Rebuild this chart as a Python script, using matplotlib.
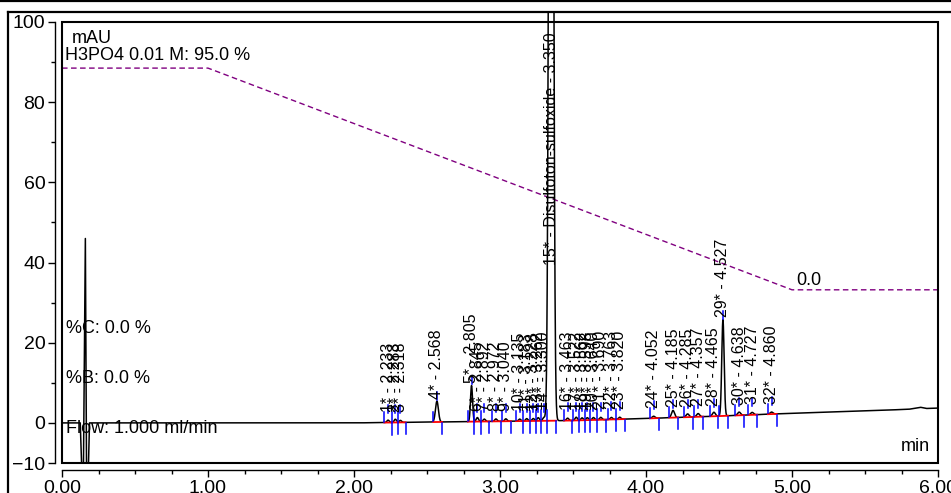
import numpy as np
import matplotlib
matplotlib.use("Agg")
import matplotlib.pyplot as plt
from matplotlib.lines import Line2D
from matplotlib.patches import Rectangle

plt.rcParams['font.family'] = ['Liberation Sans', 'DejaVu Sans']

# --- peak table ---
peak_num = list(range(1, 33))
peak_rt = [2.233, 2.283, 2.318, 2.568, 2.805, 2.845, 2.892, 2.972, 3.040,
           3.135, 3.183, 3.228, 3.262, 3.300, 3.350, 3.463, 3.522, 3.562,
           3.598, 3.640, 3.690, 3.763, 3.820, 4.052, 4.185, 4.285, 4.357,
           4.465, 4.527, 4.638, 4.727, 4.860]
peak_height = [0.6, 0.8, 0.5, 5.2, 9.0, 1.0, 0.6, 0.6, 0.6,
               0.5, 0.6, 0.6, 0.8, 0.8, 400.0, 0.6, 0.8, 0.6,
               0.6, 0.6, 0.6, 0.5, 0.5, 0.5, 1.8, 0.8, 0.8,
               1.0, 24.0, 0.8, 0.6, 0.5]
peak_sigma = [0.008, 0.008, 0.008, 0.010, 0.007, 0.008, 0.008, 0.008, 0.008,
              0.008, 0.008, 0.008, 0.008, 0.008, 0.012, 0.008, 0.008, 0.008,
              0.008, 0.008, 0.008, 0.008, 0.008, 0.010, 0.010, 0.010, 0.010,
              0.010, 0.008, 0.010, 0.010, 0.010]
peak_names = {15: 'Disulfoton-sulfoxide'}

# baseline drift (mAU) and the injection spike
base_t = [0.0, 1.0, 2.0, 2.5, 3.0, 3.5, 4.0, 4.5, 5.0, 5.5, 5.8, 5.88, 5.92, 6.0]
base_v = [0.0, 0.0, 0.0, 0.2, 0.4, 0.6, 1.1, 1.7, 2.4, 3.0, 3.4, 3.9, 3.6, 3.7]
spike_t = [0.125, 0.138, 0.146, 0.160, 0.168, 0.178, 0.188]
spike_v = [0.0, -15.0, -15.0, 46.0, -15.0, -15.0, 0.0]

# gradient profile (%A)
grad_t = [0.0, 1.0, 5.0, 6.0]
grad_v = [88.5, 88.5, 33.2, 33.2]

# --- build the trace ---
t = np.arange(0.0, 6.0005, 0.0005)
baseline = np.interp(t, base_t, base_v)
signal = baseline + np.interp(t, spike_t, spike_v, left=0, right=0)
for rt, h, s in zip(peak_rt, peak_height, peak_sigma):
    signal += h * np.exp(-0.5 * ((t - rt) / s) ** 2)

fig = plt.figure(figsize=(9.51, 4.93), dpi=100)
ax = fig.add_axes([62 / 951, 30 / 493, 876 / 951, 441 / 493])
ax.set_xlim(0, 6)
ax.set_ylim(-10, 100)

# gradient dashed line
ax.plot(grad_t, grad_v, color='#800080', lw=1.0, dashes=(4, 2.5))

# signal, allowed to run up to the outer frame
line, = ax.plot(t, signal, color='black', lw=1.1)
line.set_clip_path(Rectangle((0, 0), 1, 1.024, transform=ax.transAxes))

# peak delimiters, baseline segments and labels
for i, (n, rt, h) in enumerate(zip(peak_num, peak_rt, peak_height)):
    b = np.interp(rt, base_t, base_v)
    start = rt - 0.025
    end = rt + 0.035
    if i > 0:
        start = max(start, (peak_rt[i - 1] + rt) / 2)
    if i < len(peak_rt) - 1:
        end = min(end, (peak_rt[i + 1] + rt) / 2)
    bs = np.interp(start, base_t, base_v)
    be = np.interp(end, base_t, base_v)
    ax.plot([start, end], [bs, be], color='red', lw=1.3, zorder=3)
    ax.plot([start, start], [bs + 0.2, bs + 2.6], color='blue', lw=1.1, zorder=4)
    ax.plot([end, end], [be - 0.2, be - 3.0], color='blue', lw=1.1, zorder=4)

    top = b + max(h, 2.0)
    if n in peak_names:
        label = f"{n}* - {peak_names[n]} - {rt:.3f}"
        ly = 39.3
    else:
        label = f"{n}* - {rt:.3f}"
        ly = top + 0.6
        ax.plot([rt, rt], [top + 0.3, top + 2.3], color='blue', lw=1.1, zorder=4)
    ax.text(rt, ly, label, rotation=90, ha='center', va='bottom',
            fontsize=11.5, zorder=5)

# annotation text
ax.text(0.07, 96, 'mAU', fontsize=13, va='center', ha='left')
ax.text(0.02, 91.6, 'H3PO4 0.01 M: 95.0 %', fontsize=13, va='center', ha='left')
ax.text(0.027, 23.6, '%C: 0.0 %', fontsize=13, va='center', ha='left')
ax.text(0.027, 11.1, '%B: 0.0 %', fontsize=13, va='center', ha='left')
ax.text(0.027, -1.3, 'Flow: 1.000 ml/min', fontsize=13, va='center', ha='left')
ax.text(5.03, 35.6, '0.0', fontsize=13, va='center', ha='left')
ax.text(5.945, -6.0, 'min', fontsize=13, va='center', ha='right')

# axes: plot box plus offset tick axes
for side in ('top', 'right'):
    ax.spines[side].set_visible(False)
for side in ('left', 'bottom'):
    ax.spines[side].set_position(('outward', 5))
    ax.spines[side].set_linewidth(1.0)
ax.add_patch(Rectangle((0, 0), 1, 1, transform=ax.transAxes, fill=False,
                       lw=1.5, edgecolor='black', clip_on=False, zorder=6))

ax.set_xticks([0, 1, 2, 3, 4, 5, 6])
ax.set_xticklabels([f"{v:.2f}" for v in range(7)])
ax.set_xticks(np.arange(0, 6.01, 0.25), minor=True)
ax.set_yticks([-10, 0, 20, 40, 60, 80, 100])
ax.set_yticks([10, 30, 50, 70, 90], minor=True)
ax.tick_params(which='major', length=5, width=1.0, labelsize=14, pad=2)
ax.tick_params(which='minor', length=3, width=1.0)

# outer frame of the report page
fig.add_artist(Line2D([0, 1], [1 - 1 / 493] * 2, color='black', lw=1.6))
fig.add_artist(Line2D([8 / 951, 1], [1 - 12 / 493] * 2, color='black', lw=1.6))
fig.add_artist(Line2D([8 / 951] * 2, [0, 1 - 12 / 493], color='black', lw=1.6))

fig.savefig('out.png', dpi=100)
